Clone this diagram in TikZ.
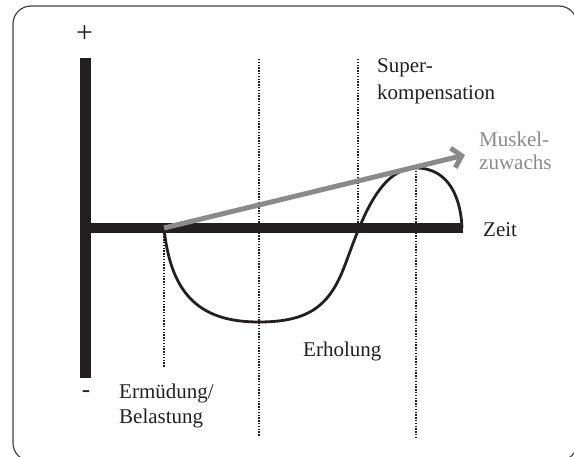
\documentclass[tikz,border=0pt]{standalone}
\usepackage{fontspec}
\setmainfont{Liberation Serif}
\usetikzlibrary{arrows.meta}
\definecolor{ink}{HTML}{231F20}
\definecolor{arrowgray}{HTML}{8A8A8A}
\begin{document}
\begin{tikzpicture}[x=1pt,y=-1pt,
  lbl/.style={anchor=base west,inner sep=0pt,text=ink,font=\fontsize{21}{25}\selectfont},
  glbl/.style={lbl,text=arrowgray},
  sign/.style={anchor=center,inner sep=0pt,text=ink},
  axis/.style={fill=ink,draw=none},
  dotline/.style={draw=ink,line width=1.4pt,dash pattern=on 1.4pt off 1.4pt},
  curve/.style={draw=ink,line width=2.8pt},
  growth/.style={draw=arrowgray,line width=5pt,-{Straight Barb[length=9pt,width=20pt,line width=5pt]}}
]
\useasboundingbox (0,0) rectangle (574,457);
\begin{scope}
\clip (0,0) rectangle (574,457);
\draw[draw=ink!85,line width=1.2pt,rounded corners=18pt] (13,6) rectangle (577,461);
\end{scope}
% dotted lines
\draw[dotline] (164,228) -- (164,367);
\draw[dotline] (259,59) -- (259,437);
\draw[dotline] (358,59) -- (358,228);
\draw[dotline] (416,168) -- (416,437);
% axes
\fill[axis] (80,58) rectangle (91,378);
\fill[axis] (80,223) rectangle (463,233);
% named points
\coordinate (start) at (164,228);
\coordinate (low) at (259,322);
\coordinate (mid) at (345,265);
\coordinate (peak) at (416,168);
\coordinate (stop) at (462,228);
\coordinate (tip) at (465,155);
% curve
\draw[curve] (start) .. controls (171,298) and (203,322) .. (low)
  .. controls (310,322) and (330,305) .. (mid)
  .. controls (360,225) and (378,168) .. (peak)
  .. controls (450,168) and (461,200) .. (stop);
% growth arrow
\draw[growth] (start) -- (tip);
% labels
\node[sign,font=\fontsize{30}{30}\selectfont] (plus) at (84.5,34.5) {+};
\node[sign,font=\fontsize{25}{25}\selectfont] (minus) at (86,394) {-};
\node[lbl] (erm) at (119,399) {Ermüdung/};
\node[lbl] (bel) at (119,424) {Belastung};
\node[lbl] (erh) at (303,357) {Erholung};
\node[lbl] (sup) at (377,73) {Super-};
\node[lbl] (komp) at (377,100) {kompensation};
\node[glbl] (musk) at (479,147) {Muskel-};
\node[glbl] (zuw) at (479,170) {zuwachs};
\node[lbl] (zeit) at (483,237) {Zeit};
\end{tikzpicture}
\end{document}
